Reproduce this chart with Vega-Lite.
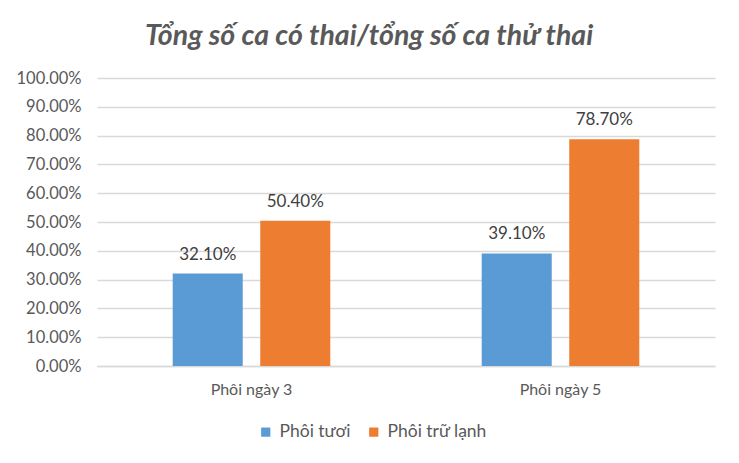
{
  "$schema": "https://vega.github.io/schema/vega-lite/v6.json",
  "autosize": {"type": "none"},
  "width": 618,
  "height": 288,
  "padding": {"left": 97, "top": 78, "right": 24, "bottom": 97},
  "background": "white",
  "title": {
    "text": "Tổng số ca có thai/tổng số ca thử thai",
    "font": "Lato",
    "fontSize": 28.5,
    "fontWeight": "bold",
    "fontStyle": "italic",
    "color": "#595959",
    "anchor": "middle",
    "frame": "group",
    "dx": -37,
    "offset": 20
  },
  "data": {
    "values": [
      {"group": "Phôi ngày 3", "type": "Phôi tươi", "rate": 0.321},
      {"group": "Phôi ngày 3", "type": "Phôi trữ lạnh", "rate": 0.504},
      {"group": "Phôi ngày 5", "type": "Phôi tươi", "rate": 0.391},
      {"group": "Phôi ngày 5", "type": "Phôi trữ lạnh", "rate": 0.787}
    ]
  },
  "encoding": {
    "x": {
      "field": "group",
      "type": "nominal",
      "title": null,
      "scale": {"paddingInner": 0.49, "paddingOuter": 0.245},
      "axis": {
        "labelAngle": 0,
        "labelFont": "Lato",
        "labelFontSize": 16,
        "labelColor": "#595959",
        "labelPadding": 15,
        "ticks": false,
        "domainColor": "#d9d9d9",
        "domainWidth": 1.5
      }
    },
    "xOffset": {
      "field": "type",
      "type": "nominal",
      "sort": ["Phôi tươi", "Phôi trữ lạnh"],
      "scale": {"paddingInner": 0.2, "paddingOuter": 0}
    },
    "y": {
      "field": "rate",
      "type": "quantitative",
      "title": null,
      "scale": {"domain": [0, 1]},
      "axis": {
        "values": [0, 0.1, 0.2, 0.3, 0.4, 0.5, 0.6, 0.7, 0.8, 0.9, 1],
        "format": ".2%",
        "labelFont": "Lato",
        "labelFontSize": 16.5,
        "labelColor": "#595959",
        "labelPadding": 16,
        "ticks": false,
        "domain": false,
        "gridColor": "#d9d9d9",
        "gridWidth": 1.5
      }
    }
  },
  "layer": [
    {
      "mark": {"type": "bar"},
      "encoding": {
        "color": {
          "field": "type",
          "type": "nominal",
          "sort": ["Phôi tươi", "Phôi trữ lạnh"],
          "scale": {"domain": ["Phôi tươi", "Phôi trữ lạnh"], "range": ["#5b9bd5", "#ed7d31"]},
          "legend": {
            "title": null,
            "orient": "none",
            "legendX": 160,
            "legendY": 345,
            "direction": "horizontal",
            "symbolType": "square",
            "symbolSize": 85,
            "symbolStrokeWidth": 0,
            "labelFont": "Lato",
            "labelFontSize": 17.5,
            "labelColor": "#595959",
            "columnPadding": 14,
            "labelOffset": 5
          }
        }
      }
    },
    {
      "mark": {"type": "text", "dy": -19, "font": "Lato", "fontSize": 17, "color": "#404040"},
      "encoding": {
        "text": {"field": "rate", "type": "quantitative", "format": ".2%"}
      }
    }
  ],
  "config": {"view": {"stroke": null}}
}
